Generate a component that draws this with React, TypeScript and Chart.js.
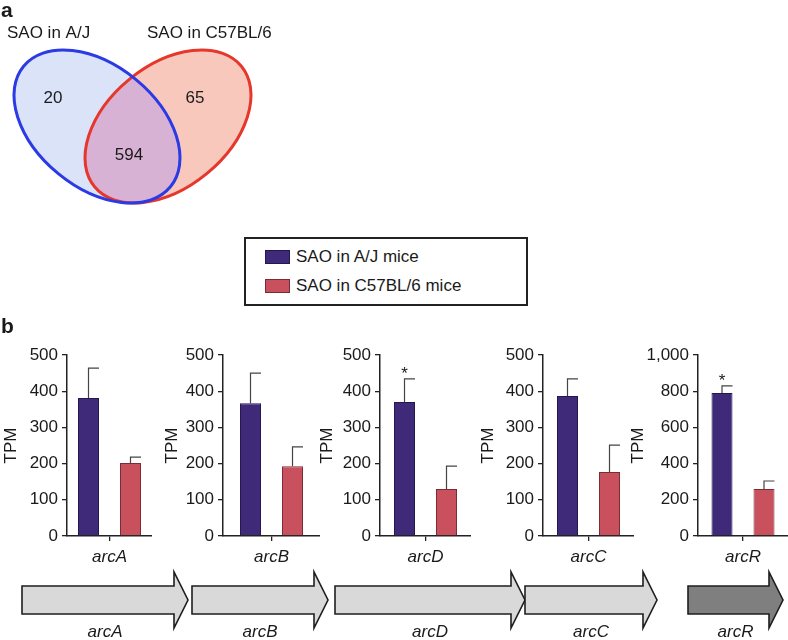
import React, { useEffect, useRef } from 'react';
import { Chart, registerables } from 'chart.js';

Chart.register(...registerables);

const FONT = "'Liberation Sans', Arial, Helvetica, sans-serif";

// ---------- data ----------
const seriesNames = ['SAO in A/J mice', 'SAO in C57BL/6 mice'];
const genes = ['arcA', 'arcB', 'arcD', 'arcC', 'arcR'];
const ajMeans = [381, 367, 370, 387, 790];
const ajErrors = [83, 83, 64, 47, 39];
const c57Means = [202, 193, 130, 177, 260];
const c57Errors = [16, 53, 63, 74, 44];
const significant = [false, false, true, false, true];
const yMax = [500, 500, 500, 500, 1000];
const yStep = [100, 100, 100, 100, 200];

const vennSetLabels = ['SAO in A/J', 'SAO in C57BL/6'];
const vennCounts = [20, 594, 65]; // A/J only, both, C57BL/6 only

const geneOrder = ['arcA', 'arcB', 'arcD', 'arcC', 'arcR'];
const geneStart = [22, 192, 335, 525, 688];
const geneEnd = [188, 328, 525, 657, 783];

// ---------- styles / layout ----------
const seriesColors = ['#3f2a7a', '#c9505d'];
const seriesBorders = ['#24184f', '#7a2c36'];
const geneFills = ['#d9d9d9', '#d9d9d9', '#d9d9d9', '#d9d9d9', '#7f7f7f'];
const TEXT = '#1a1a1a';

const barLayout = [
  { left: 1, yW: 66, areaW: 85 },
  { left: 162, yW: 61, areaW: 97 },
  { left: 317, yW: 63, areaW: 91 },
  { left: 478, yW: 65, areaW: 91 },
  { left: 628, yW: 70, areaW: 90 },
];

const errorBarPlugin = {
  id: 'errorBars',
  afterDatasetsDraw(chart: any, _args: any, opts: any) {
    const { ctx } = chart;
    const yScale = chart.scales.y;
    chart.data.datasets.forEach((ds: any, i: number) => {
      const meta = chart.getDatasetMeta(i);
      meta.data.forEach((bar: any, j: number) => {
        const v = ds.data[j];
        const e = ds.errors[j];
        const { x, y, width } = bar.getProps(['x', 'y', 'width'], true);
        const yt = yScale.getPixelForValue(v + e);
        ctx.save();
        ctx.strokeStyle = '#444';
        ctx.lineWidth = 1.2;
        ctx.beginPath();
        ctx.moveTo(x, y);
        ctx.lineTo(x, yt);
        ctx.moveTo(x - 0.6, yt);
        ctx.lineTo(x + width / 2, yt);
        ctx.stroke();
        if (ds.stars && ds.stars[j]) {
          ctx.fillStyle = TEXT;
          ctx.font = `17px ${FONT}`;
          ctx.textAlign = 'center';
          ctx.textBaseline = 'alphabetic';
          ctx.fillText('*', x, yt);
        }
        ctx.restore();
      });
    });
  },
};

function BarPanel({ idx }: { idx: number }) {
  const ref = useRef<HTMLCanvasElement>(null);
  const L = barLayout[idx];
  const W = L.yW + L.areaW;
  const H = 240;
  useEffect(() => {
    const catPct = 84 / L.areaW;
    const chart = new Chart(ref.current as HTMLCanvasElement, {
      type: 'bar',
      data: {
        labels: [genes[idx]],
        datasets: [
          {
            label: seriesNames[0],
            data: [ajMeans[idx]],
            errors: [ajErrors[idx]],
            stars: [significant[idx]],
            backgroundColor: seriesColors[0],
            borderColor: seriesBorders[0],
            borderWidth: 1,
            categoryPercentage: catPct,
            barPercentage: 0.5,
          } as any,
          {
            label: seriesNames[1],
            data: [c57Means[idx]],
            errors: [c57Errors[idx]],
            stars: [false],
            backgroundColor: seriesColors[1],
            borderColor: seriesBorders[1],
            borderWidth: 1,
            categoryPercentage: catPct,
            barPercentage: 0.5,
          } as any,
        ],
      },
      options: {
        responsive: false,
        animation: false,
        events: [],
        layout: { padding: { top: 15, right: 0, bottom: 0, left: 0 } },
        plugins: { legend: { display: false }, tooltip: { enabled: false } },
        scales: {
          x: {
            grid: { display: true, drawOnChartArea: false, drawTicks: true, tickLength: 5, color: '#222', offset: false, lineWidth: 1.3 },
            border: { display: true, color: '#222', width: 1.5 },
            ticks: { color: TEXT, font: { family: FONT, size: 17, style: 'italic' }, padding: 6 },
            afterFit: (s: any) => { s.height = 44; },
          },
          y: {
            min: 0,
            max: yMax[idx],
            grid: { display: true, drawOnChartArea: false, drawTicks: true, tickLength: 5, color: '#222', lineWidth: 1.3 },
            border: { display: true, color: '#222', width: 1.5 },
            ticks: {
              stepSize: yStep[idx],
              color: TEXT,
              font: { family: FONT, size: 17 },
              padding: 4,
              callback: (v: any) => Number(v).toLocaleString('en-US'),
            },
            title: { display: true, text: 'TPM', color: TEXT, font: { family: FONT, size: 17 }, padding: 0 },
            afterFit: (s: any) => { s.width = L.yW; },
          },
        },
      } as any,
      plugins: [errorBarPlugin],
    });
    return () => chart.destroy();
  }, [idx]);
  return (
    <canvas
      ref={ref}
      width={W}
      height={H}
      style={{ position: 'absolute', left: L.left, top: 340, width: W, height: H }}
    />
  );
}

const vennPlugin = {
  id: 'venn',
  afterDraw(chart: any) {
    const { ctx } = chart;
    const xs = chart.scales.x;
    const ys = chart.scales.y;
    const px = (v: number) => xs.getPixelForValue(v);
    const py = (v: number) => ys.getPixelForValue(v);
    const k = Math.abs(px(1) - px(0));
    const rot = (39.4 * Math.PI) / 180;
    const blue = { cx: 97, cy: 126.5, rx: 95, ry: 61, r: rot };
    const red = { cx: 168, cy: 126.5, rx: 95, ry: 61, r: -rot };
    const path = (e: any) => {
      ctx.beginPath();
      ctx.ellipse(px(e.cx), py(e.cy), e.rx * k, e.ry * k, e.r, 0, Math.PI * 2);
    };
    ctx.save();
    path(blue); ctx.fillStyle = '#dae3f8'; ctx.fill();
    path(red); ctx.fillStyle = '#f9c8bd'; ctx.fill();
    ctx.save();
    path(blue); ctx.clip();
    path(red); ctx.fillStyle = '#d8b2d4'; ctx.fill();
    ctx.restore();
    ctx.lineWidth = 3;
    path(red); ctx.strokeStyle = '#e6372c'; ctx.stroke();
    path(blue); ctx.strokeStyle = '#2a3ae4'; ctx.stroke();

    ctx.fillStyle = TEXT;
    ctx.font = `17px ${FONT}`;
    ctx.textAlign = 'center';
    ctx.textBaseline = 'middle';
    ctx.fillText(String(vennCounts[0]), px(53), py(98));
    ctx.fillText(String(vennCounts[1]), px(129), py(155));
    ctx.fillText(String(vennCounts[2]), px(195), py(98));
    ctx.textAlign = 'left';
    ctx.fillText(vennSetLabels[0], px(7), py(33));
    ctx.fillText(vennSetLabels[1], px(147), py(33));
    ctx.restore();
  },
};

function VennPanel() {
  const ref = useRef<HTMLCanvasElement>(null);
  useEffect(() => {
    const chart = new Chart(ref.current as HTMLCanvasElement, {
      type: 'scatter',
      data: { datasets: [] },
      options: {
        responsive: false,
        animation: false,
        events: [],
        layout: { padding: 0 },
        plugins: { legend: { display: false }, tooltip: { enabled: false } },
        scales: {
          x: { type: 'linear', min: 0, max: 280, display: false },
          y: { type: 'linear', min: 0, max: 215, reverse: true, display: false },
        },
      } as any,
      plugins: [vennPlugin],
    });
    return () => chart.destroy();
  }, []);
  return (
    <canvas ref={ref} width={280} height={215} style={{ position: 'absolute', left: 0, top: 0, width: 280, height: 215 }} />
  );
}

const arrowPlugin = {
  id: 'geneArrows',
  afterDatasetsDraw(chart: any) {
    const { ctx } = chart;
    chart.data.datasets.forEach((ds: any, i: number) => {
      const bar = chart.getDatasetMeta(i).data[0];
      const { x, y, base, height } = bar.getProps(['x', 'y', 'base', 'height'], true);
      const x0 = Math.min(x, base);
      const x1 = Math.max(x, base);
      const h = height / 2;
      const head = 14;
      const hh = 28;
      ctx.save();
      ctx.beginPath();
      ctx.moveTo(x0, y - h);
      ctx.lineTo(x1 - head, y - h);
      ctx.lineTo(x1 - head, y - hh);
      ctx.lineTo(x1, y);
      ctx.lineTo(x1 - head, y + hh);
      ctx.lineTo(x1 - head, y + h);
      ctx.lineTo(x0, y + h);
      ctx.closePath();
      ctx.fillStyle = ds.arrowFill;
      ctx.fill();
      ctx.lineWidth = 1.6;
      ctx.strokeStyle = '#1e1e1e';
      ctx.lineJoin = 'miter';
      ctx.stroke();
      ctx.fillStyle = TEXT;
      ctx.font = `italic 17px ${FONT}`;
      ctx.textAlign = 'center';
      ctx.textBaseline = 'middle';
      ctx.fillText(ds.label, (x0 + x1) / 2, y + 32);
      ctx.restore();
    });
  },
};

function GenePanel() {
  const ref = useRef<HTMLCanvasElement>(null);
  useEffect(() => {
    const chart = new Chart(ref.current as HTMLCanvasElement, {
      type: 'bar',
      data: {
        labels: ['operon'],
        datasets: geneOrder.map((g, i) => ({
          label: g,
          data: [[geneStart[i], geneEnd[i]]],
          backgroundColor: 'transparent',
          borderWidth: 0,
          barThickness: 28,
          grouped: false,
          arrowFill: geneFills[i],
        })) as any,
      },
      options: {
        indexAxis: 'y',
        responsive: false,
        animation: false,
        events: [],
        layout: { padding: 0 },
        plugins: { legend: { display: false }, tooltip: { enabled: false } },
        scales: {
          x: { type: 'linear', min: 0, max: 788, display: false },
          y: { display: false },
        },
      } as any,
      plugins: [arrowPlugin],
    });
    return () => chart.destroy();
  }, []);
  return (
    <canvas ref={ref} width={788} height={80} style={{ position: 'absolute', left: 0, top: 560, width: 788, height: 80 }} />
  );
}

export default function App() {
  const txt: React.CSSProperties = { position: 'absolute', fontFamily: FONT, fontSize: 17, lineHeight: '20px', color: TEXT, whiteSpace: 'nowrap' };
  return (
    <div style={{ position: 'absolute', left: 0, top: 0, width: 788, height: 640, background: '#fff', overflow: 'hidden' }}>
      <VennPanel />
      <div style={{ ...txt, left: 1, top: -2, fontWeight: 'bold', fontSize: 21, lineHeight: '24px' }}>a</div>
      <div style={{ ...txt, left: 1, top: 314, fontWeight: 'bold', fontSize: 21, lineHeight: '24px' }}>b</div>
      <div style={{ position: 'absolute', left: 244, top: 237, width: 284, height: 69, boxSizing: 'border-box', border: '2px solid #222' }} />
      <div style={{ position: 'absolute', left: 265, top: 250, width: 25, height: 14, boxSizing: 'border-box', background: seriesColors[0], border: `1px solid ${seriesBorders[0]}` }} />
      <div style={{ ...txt, left: 296, top: 247 }}>{seriesNames[0]}</div>
      <div style={{ position: 'absolute', left: 265, top: 279, width: 25, height: 14, boxSizing: 'border-box', background: seriesColors[1], border: `1px solid ${seriesBorders[1]}` }} />
      <div style={{ ...txt, left: 296, top: 276 }}>{seriesNames[1]}</div>
      {genes.map((_, i) => (
        <BarPanel key={i} idx={i} />
      ))}
      <GenePanel />
    </div>
  );
}
